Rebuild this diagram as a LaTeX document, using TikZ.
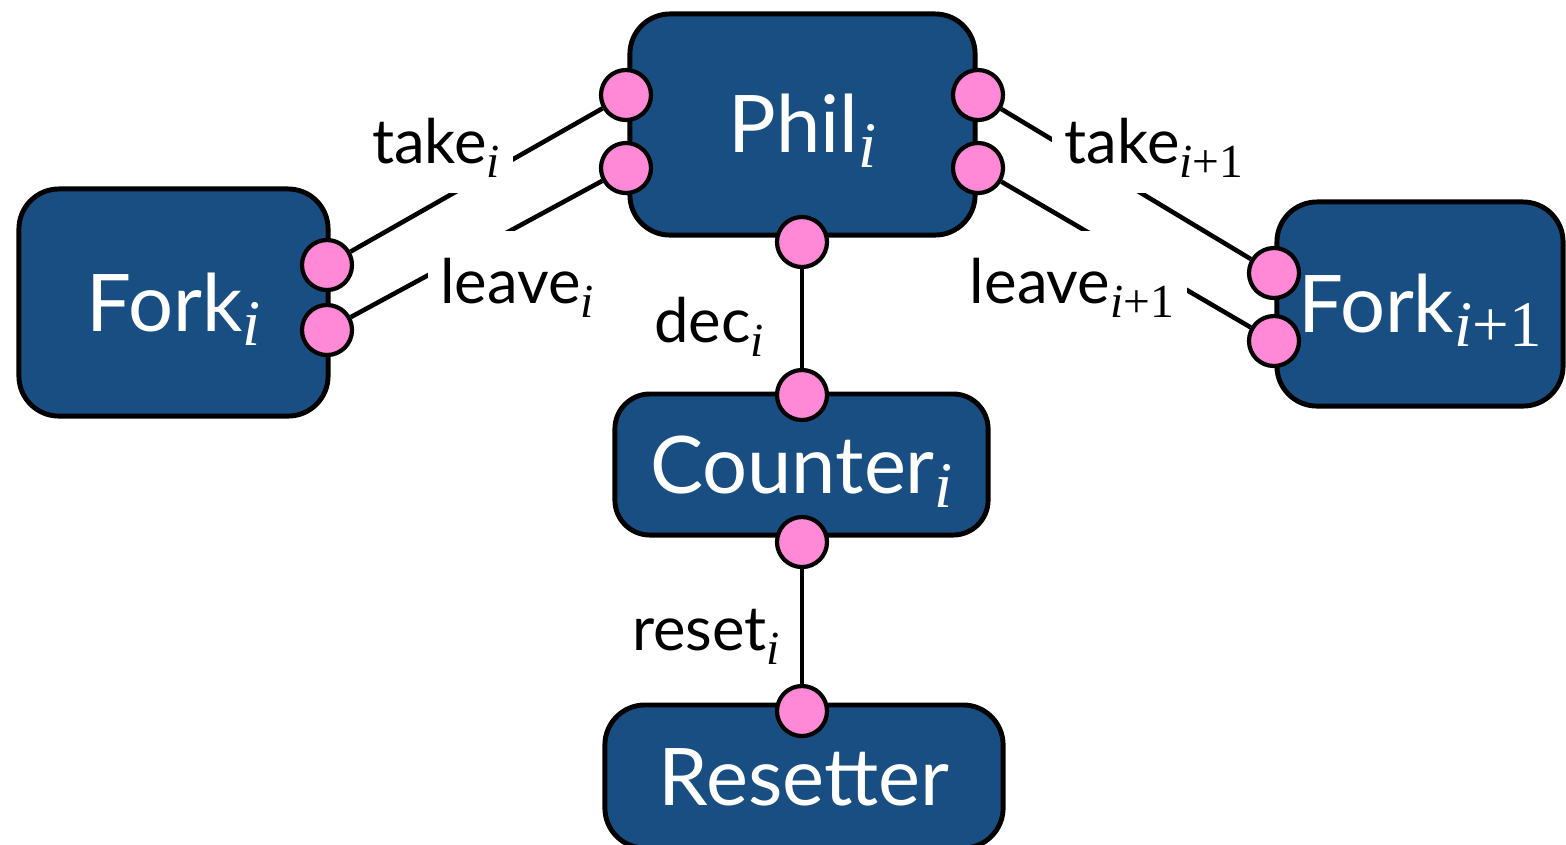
\documentclass[tikz,border=0pt]{standalone}
\usepackage{fontspec}
\setmainfont{Lato}
\newfontfamily\tms{Liberation Serif}
\definecolor{boxblue}{RGB}{25,78,130}
\definecolor{portpink}{RGB}{255,137,214}
\pgfdeclarelayer{bg}
\pgfdeclarelayer{fg}
\pgfsetlayers{bg,main,fg}
\newcommand\lsub[1]{\raisebox{-4pt}{\fontsize{13.5}{13.5}\selectfont\tms #1}}
\newcommand\bsub[1]{\raisebox{-4pt}{\fontsize{18.5}{18.5}\selectfont\tms #1}}
\begin{document}
\begin{tikzpicture}[x=0.01cm,y=-0.01cm,
  comp/.style={draw=black,line width=1.4pt,fill=boxblue,rounded corners=4mm,
    text=white,font=\fontsize{22.6}{24}\selectfont,text height=16.2pt,text depth=0pt,inner sep=0pt},
  port/.style={circle,draw=black,line width=1.2pt,fill=portpink,minimum size=5mm,inner sep=0pt},
  conn/.style={line width=1.3pt},
  lbl/.style={fill=white,font=\fontsize{17.5}{20}\selectfont,text height=16.6pt,text depth=4.4pt,
    inner xsep=3.6pt,inner ysep=4pt,anchor=base}]
\useasboundingbox (0,0) rectangle (1566,844);
\begin{pgfonlayer}{bg}
\node[comp,minimum width=3.45cm,minimum height=2.21cm] (phil) at (802.5,124.5) {Phil\bsub{\textit{i}}};
\node[comp,minimum width=3.09cm,minimum height=2.27cm] (fork1) at (173.5,302.5) {Fork\bsub{\textit{i}}};
\node[comp,minimum width=2.86cm,minimum height=2.04cm] (fork2) at (1420,304) {Fork\bsub{\textit{i}+1}};
\node[comp,minimum width=3.73cm,minimum height=1.41cm,rounded corners=3.5mm] (counter) at (801.5,464.5) {Counter\bsub{\textit{i}}};
\node[comp,minimum width=3.98cm,minimum height=1.43cm] (resetter) at (804,776.5) {Resetter};
\end{pgfonlayer}
\begin{pgfonlayer}{fg}
\node[port] (pL1) at (626,95) {};
\node[port] (pL2) at (626,168) {};
\node[port] (pR1) at (978,95) {};
\node[port] (pR2) at (978,168) {};
\node[port] (pB) at (802,242) {};
\node[port] (fa1) at (327,265) {};
\node[port] (fa2) at (327,330) {};
\node[port] (fb1) at (1274,273) {};
\node[port] (fb2) at (1274,341) {};
\node[port] (cT) at (802,395) {};
\node[port] (cB) at (802,542) {};
\node[port] (rT) at (802,711) {};
\end{pgfonlayer}
\draw[conn] (pL1) -- (fa1);
\draw[conn] (pL2) -- (fa2);
\draw[conn] (pR1) -- (fb1);
\draw[conn] (pR2) -- (fb2);
\draw[conn] (pB) -- (cT);
\draw[conn] (cB) -- (rT);
\node[lbl] (ltake1) at (436,163) {take\lsub{\textit{i}}};
\node[lbl] (lleave1) at (517,303) {leave\lsub{\textit{i}}};
\node[lbl] (ldec) at (709,342) {dec\lsub{\textit{i}}};
\node[lbl] (lreset) at (706,650) {reset\lsub{\textit{i}}};
\node[lbl] (ltake2) at (1154,163) {take\lsub{\textit{i}+1}};
\node[lbl] (lleave2) at (1072,303) {leave\lsub{\textit{i}+1}};
\end{tikzpicture}
\end{document}
